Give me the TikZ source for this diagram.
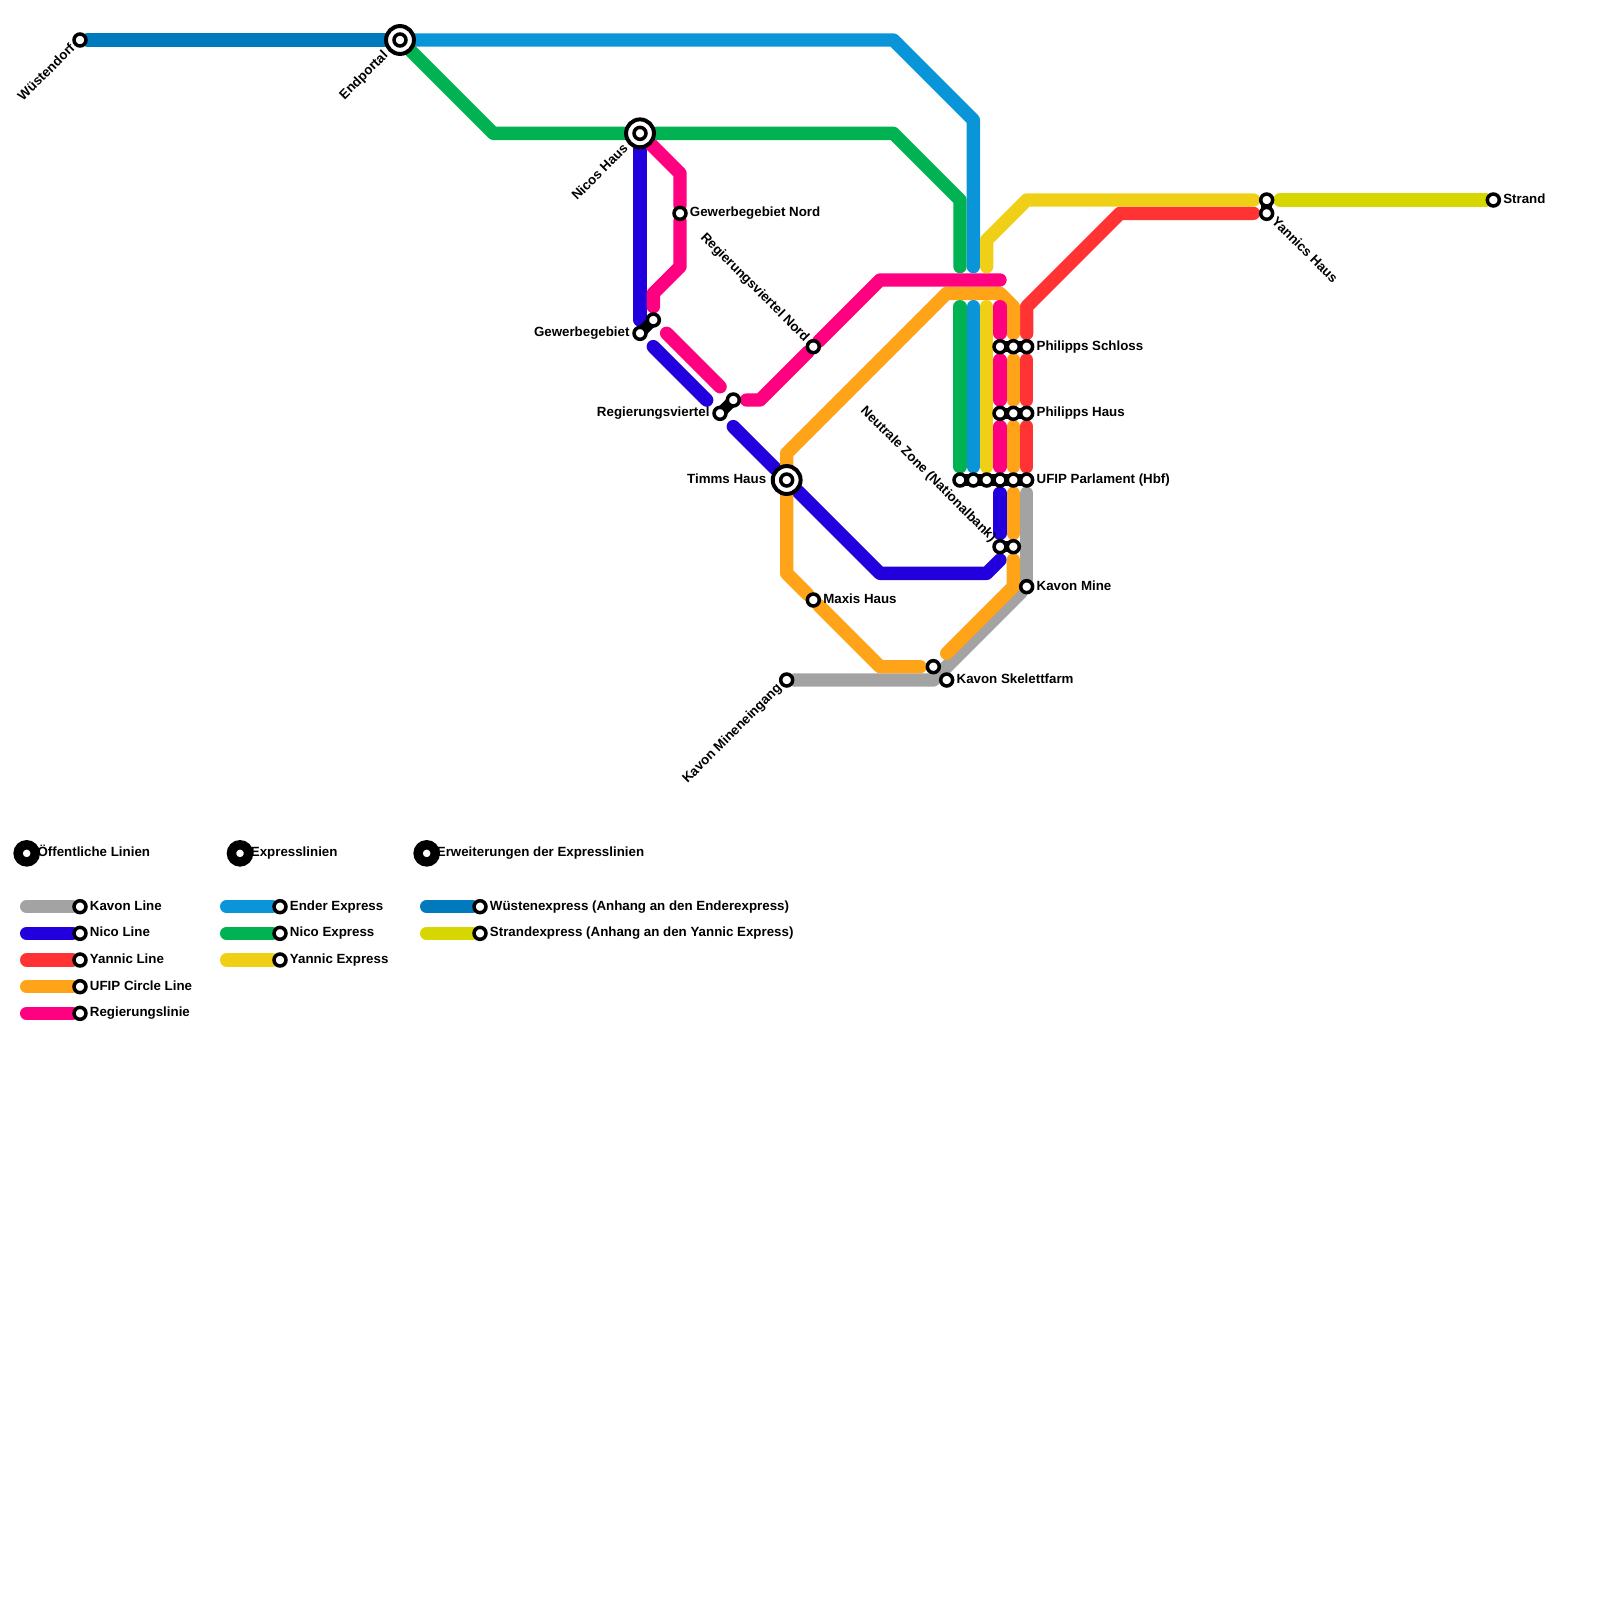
\documentclass[tikz,border=0pt]{standalone}
\usepackage{xcolor}
\usepackage{fontspec}
\setmainfont{Liberation Sans}
\usepackage{tikz}
\usetikzlibrary{backgrounds}

\definecolor{kavonc}{HTML}{A3A3A3}
\definecolor{nicoc}{HTML}{2200DD}
\definecolor{yannicc}{HTML}{FF3333}
\definecolor{ufipc}{HTML}{FFA319}
\definecolor{regc}{HTML}{FF0080}
\definecolor{enderc}{HTML}{0B95D9}
\definecolor{nicoxc}{HTML}{00B251}
\definecolor{yannicxc}{HTML}{F0D017}
\definecolor{wuestc}{HTML}{007ABD}
\definecolor{strandc}{HTML}{D6D600}

\begin{document}
\begin{tikzpicture}[
  x=0.4cm, y=-0.4cm,
  stn/.style   ={circle, draw=black, fill=white, line width=3pt,
                 minimum size=10.2pt, inner sep=0pt},
  hub/.style   ={circle, draw=black, fill=white, line width=3.4pt,
                 minimum size=23.8pt, inner sep=0pt},
  legdot/.style={circle, draw=black, fill=white, line width=8pt,
                 minimum size=14.6pt, inner sep=0pt},
  lbl/.style   ={inner sep=0pt, font=\bfseries\fontsize{11.37}{13}\selectfont},
  lblr/.style  ={lbl, anchor=base west},
  lbll/.style  ={lbl, anchor=base east},
  rail/.style  ={line width=0.4cm, line cap=round, line join=round},
  kavon/.style ={rail, kavonc},
  nico/.style  ={rail, nicoc},
  yannic/.style={rail, yannicc},
  ufip/.style  ={rail, ufipc},
  regl/.style  ={rail, regc},
  ender/.style ={rail, enderc},
  nicox/.style ={rail, nicoxc},
  yannicx/.style={rail, yannicxc},
  wuest/.style ={rail, wuestc},
  strandx/.style={rail, strandc},
  gapa/.style  ={shorten <=4.7pt},
  gapb/.style  ={shorten >=4.7pt},
  diaga/.style ={shorten <=9.4pt},
  diagb/.style ={shorten >=9.4pt},
  link/.style  ={black, line width=9.5pt}
]
\useasboundingbox (0,0) rectangle (120,120);

%% ── Stations ─────────────────────────────────────────────────────────
\node[stn] (wuesten)  at (6,3)   {};
\node[hub] (endportal) at (30,3) {};
\node[stn] (endportalin) at (30,3) {};
\node[hub] (nicos)    at (48,10) {};
\node[stn] (nicosin)  at (48,10) {};
\node[hub] (timms)    at (59,36) {};
\node[stn] (timmsin)  at (59,36) {};
\node[stn] (gewnord)  at (51,16) {};
\node[stn] (gew)      at (48,25) {};
\node[stn] (gewb)     at (49,24) {};
\node[stn] (regv)     at (54,31) {};
\node[stn] (regvb)    at (55,30) {};
\node[stn] (regnord)  at (61,26) {};
\node[stn] (maxis)    at (61,45) {};
\node[stn] (minen)    at (59,51) {};
\node[stn] (skelb)    at (70,50) {};
\node[stn] (skel)     at (71,51) {};
\node[stn] (mine)     at (77,44) {};
\node[stn] (yannicsa) at (95,15) {};
\node[stn] (yannicsb) at (95,16) {};
\node[stn] (strand)   at (112,15) {};

\node[stn] (schlossa) at (75,26) {};
\node[stn] (schlossb) at (76,26) {};
\node[stn] (schlossc) at (77,26) {};
\node[stn] (phausa)   at (75,31) {};
\node[stn] (phausb)   at (76,31) {};
\node[stn] (phausc)   at (77,31) {};
\node[stn] (parla)    at (72,36) {};
\node[stn] (parlb)    at (73,36) {};
\node[stn] (parlc)    at (74,36) {};
\node[stn] (parld)    at (75,36) {};
\node[stn] (parle)    at (76,36) {};
\node[stn] (parlf)    at (77,36) {};
\node[stn] (neutrala) at (75,41) {};
\node[stn] (neutralb) at (76,41) {};

%% ── Free line ends ───────────────────────────────────────────────────
\coordinate (greenstop)  at (72,20);
\coordinate (greenstart) at (72,23);
\coordinate (bluestop)   at (73,20);
\coordinate (bluestart)  at (73,23);
\coordinate (yelstop)    at (74,20);
\coordinate (yelstart)   at (74,23);
\coordinate (regstop)    at (75,21);
\coordinate (regstart)   at (75,23);
\coordinate (nicostop)   at (75,42);
\coordinate (ufipstop)   at (71,49);

%% ── Station names ────────────────────────────────────────────────────
\node[lbll, rotate=45]  (nwuesten) at (5.68,3.67)   {Wüstendorf};
\node[lbll, rotate=45]  (nend)     at (29.15,4.2)  {Endportal};
\node[lbll, rotate=45]  (nnicos)   at (47.15,11.2) {Nicos Haus};
\node[lbll, rotate=45]  (nminen)   at (58.68,51.67) {Kavon Mineneingang};
\node[lbll, rotate=-45] (nregnord) at (60.33,25.68) {Regierungsviertel Nord};
\node[lbll, rotate=-45] (nneutral) at (74.33,40.68) {Neutrale Zone (Nationalbank)};
\node[lblr, rotate=-45] (nyannics) at (95.32,16.67) {Yannics Haus};
\node[lbll] (ngew)   at (47.23,25.25)  {Gewerbegebiet};
\node[lbll] (nregv)  at (53.23,31.25)  {Regierungsviertel};
\node[lbll] (ntimms) at (57.48,36.25) {Timms Haus};
\node[lblr] (ngewn)  at (51.73,16.25)  {Gewerbegebiet Nord};
\node[lblr] (nmaxis) at (61.73,45.25)  {Maxis Haus};
\node[lblr] (nskel)  at (71.73,51.25)  {Kavon Skelettfarm};
\node[lblr] (nmine)  at (77.73,44.25)  {Kavon Mine};
\node[lblr] (nschl)  at (77.73,26.25)  {Philipps Schloss};
\node[lblr] (nphaus) at (77.73,31.25)  {Philipps Haus};
\node[lblr] (nparl)  at (77.73,36.25)  {UFIP Parlament (Hbf)};
\node[lblr] (nstr)   at (112.73,15.25) {Strand};

%% ── Legend ───────────────────────────────────────────────────────────
\node[legdot] (heada) at (2,64)  {};
\node[legdot] (headb) at (18,64) {};
\node[legdot] (headc) at (32,64) {};
\node[lblr] (theada) at (2.8,64.25)  {Öffentliche Linien};
\node[lblr] (theadb) at (18.8,64.25) {Expresslinien};
\node[lblr] (theadc) at (32.75,64.25)  {Erweiterungen der Expresslinien};

\coordinate (lkavon)  at (2,68);
\coordinate (lnico)   at (2,70);
\coordinate (lyannic) at (2,72);
\coordinate (lufip)   at (2,74);
\coordinate (lregl)   at (2,76);
\coordinate (lender)  at (17,68);
\coordinate (lnicox)  at (17,70);
\coordinate (lyannix) at (17,72);
\coordinate (lwuest)  at (32,68);
\coordinate (lstrand) at (32,70);

\node[stn] (skavon)  at (6,68)  {};
\node[stn] (snico)   at (6,70)  {};
\node[stn] (syannic) at (6,72)  {};
\node[stn] (sufip)   at (6,74)  {};
\node[stn] (sregl)   at (6,76)  {};
\node[stn] (sender)  at (21,68) {};
\node[stn] (snicox)  at (21,70) {};
\node[stn] (syannix) at (21,72) {};
\node[stn] (swuest)  at (36,68) {};
\node[stn] (sstrand) at (36,70) {};

\node[lblr] (tkavon)  at (6.73,68.25)  {Kavon Line};
\node[lblr] (tnico)   at (6.73,70.25)  {Nico Line};
\node[lblr] (tyannic) at (6.73,72.25)  {Yannic Line};
\node[lblr] (tufip)   at (6.73,74.25)  {UFIP Circle Line};
\node[lblr] (tregl)   at (6.73,76.25)  {Regierungslinie};
\node[lblr] (tender)  at (21.73,68.25) {Ender Express};
\node[lblr] (tnicox)  at (21.73,70.25) {Nico Express};
\node[lblr] (tyannix) at (21.73,72.25) {Yannic Express};
\node[lblr] (twuest)  at (36.73,68.25) {Wüstenexpress (Anhang an den Enderexpress)};
\node[lblr] (tstrand) at (36.73,70.25) {Strandexpress (Anhang an den Yannic Express)};

\begin{scope}[on background layer]
  %% ── Public lines ───────────────────────────────────────────────────
  \draw[kavon] (minen) -- (70,51) -- (mine);
  \draw[kavon, gapb] (mine) -- (parlf);

  \draw[nico, gapb] (nicos) -- (gew);
  \draw[nico, diaga, diagb] (gew) -- (regv);
  \draw[nico, diaga] (regv) -- (timms);
  \draw[nico] (timms) -- (66,43) -- (74,43) -- (nicostop);
  \draw[nico, gapa, gapb] (parld) -- (neutrala);

  \draw[yannic, gapa, gapb] (yannicsb) -- (84,16) -- (77,23) -- (schlossc);
  \draw[yannic, gapa, gapb] (schlossc) -- (phausc);
  \draw[yannic, gapa, gapb] (phausc) -- (parlf);

  \draw[ufip, gapb] (timms) -- (59,34) -- (71,22) -- (75,22) -- (76,23) -- (schlossb);
  \draw[ufip, gapa, gapb] (schlossb) -- (phausb);
  \draw[ufip, gapa, gapb] (phausb) -- (parle);
  \draw[ufip, gapa, gapb] (parle) -- (neutralb);
  \draw[ufip, gapa] (neutralb) -- (76,44) -- (ufipstop);
  \draw[ufip, gapb] (timms) -- (59,43) -- (maxis) -- (66,50) -- (skelb);

  \draw[regl] (nicos) -- (51,13) -- (gewnord);
  \draw[regl, gapb] (gewnord) -- (51,20) -- (49,22) -- (gewb);
  \draw[regl, diaga, diagb] (gewb) -- (regvb);
  \draw[regl, gapa] (regvb) -- (57,30) -- (regnord);
  \draw[regl] (regnord) -- (66,21) -- (regstop);
  \draw[regl, gapb] (regstart) -- (schlossa);
  \draw[regl, gapa, gapb] (schlossa) -- (phausa);
  \draw[regl, gapa, gapb] (phausa) -- (parld);

  %% ── Express lines ──────────────────────────────────────────────────
  \draw[wuest]  (wuesten) -- (endportal);
  \draw[ender]  (endportal) -- (67,3) -- (73,9) -- (bluestop);
  \draw[ender, gapb] (bluestart) -- (parlb);
  \draw[nicox]  (endportal) -- (37,10) -- (nicos);
  \draw[nicox]  (nicos) -- (67,10) -- (72,15) -- (greenstop);
  \draw[nicox, gapb] (greenstart) -- (parla);
  \draw[yannicx, gapb] (yelstop) -- (74,18) -- (77,15) -- (yannicsa);
  \draw[yannicx, gapb] (yelstart) -- (parlc);
  \draw[strandx, gapa] (yannicsa) -- (strand);

  %% ── Legend lines ───────────────────────────────────────────────────
  \draw[kavon]   (lkavon)  -- (skavon);
  \draw[nico]    (lnico)   -- (snico);
  \draw[yannic]  (lyannic) -- (syannic);
  \draw[ufip]    (lufip)   -- (sufip);
  \draw[regl]    (lregl)   -- (sregl);
  \draw[ender]   (lender)  -- (sender);
  \draw[nicox]   (lnicox)  -- (snicox);
  \draw[yannicx] (lyannix) -- (syannix);
  \draw[wuest]   (lwuest)  -- (swuest);
  \draw[strandx] (lstrand) -- (sstrand);

  %% ── Interchange links ──────────────────────────────────────────────
  \draw[link] (gew.center) -- (gewb.center);
  \draw[link] (regv.center) -- (regvb.center);
  \draw[link] (yannicsa.center) -- (yannicsb.center);
  \draw[link] (schlossa.center) -- (schlossc.center);
  \draw[link] (phausa.center) -- (phausc.center);
  \draw[link] (parla.center) -- (parlf.center);
  \draw[link] (neutrala.center) -- (neutralb.center);
\end{scope}

\end{tikzpicture}
\end{document}
